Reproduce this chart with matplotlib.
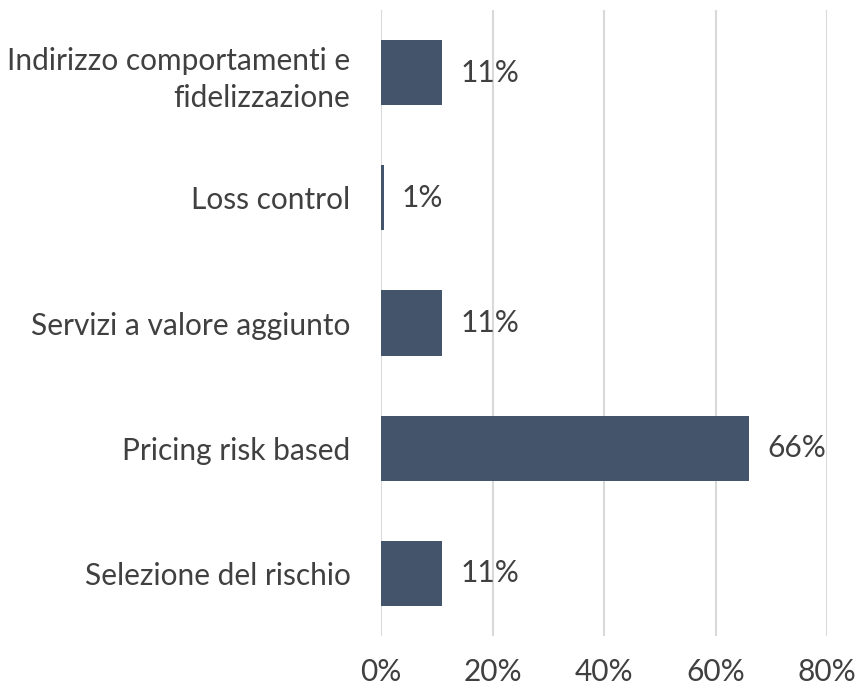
import matplotlib
matplotlib.use("Agg")
import matplotlib.pyplot as plt
from matplotlib.ticker import FuncFormatter

# data (top to bottom as shown)
categories = [
    "Indirizzo comportamenti e\nfidelizzazione",
    "Loss control",
    "Servizi a valore aggiunto",
    "Pricing risk based",
    "Selezione del rischio",
]
values = [11, 0.5, 11, 66, 11]
labels = ["11%", "1%", "11%", "66%", "11%"]
xticks = [0, 20, 40, 60, 80]

plt.rcParams['font.family'] = ['Lato', 'DejaVu Sans']

bar_color = "#44546A"
text_color = "#404040"
grid_color = "#D9D9D9"
fs = 21.5

fig = plt.figure(figsize=(8.6, 6.93), dpi=100)
ax = fig.add_axes([381 / 860, 1 - 636 / 693, (827 - 381) / 860, (636 - 10) / 693])

pos = list(range(len(categories)))[::-1]
ax.barh(pos, values, height=0.52, color=bar_color, zorder=3)

for y, v, lab in zip(pos, values, labels):
    ax.annotate(lab, xy=(v, y), xytext=(13, 0), textcoords="offset points",
                ha="left", va="center", fontsize=fs, color=text_color)

ax.set_xlim(0, 80)
ax.set_ylim(-0.5, len(categories) - 0.5)
ax.set_xticks(xticks)
ax.xaxis.set_major_formatter(FuncFormatter(lambda x, _: f"{x:.0f}%"))
ax.set_yticks(pos)
ax.set_yticklabels(categories, linespacing=1.38)

ax.tick_params(axis="x", length=0, pad=16, labelsize=fs, labelcolor=text_color)
ax.tick_params(axis="y", length=0, pad=22, labelsize=fs, labelcolor=text_color)

ax.grid(axis="x", color=grid_color, linewidth=1.5, zorder=0)
for s in ax.spines.values():
    s.set_visible(False)

fig.savefig("out.png", dpi=100)
